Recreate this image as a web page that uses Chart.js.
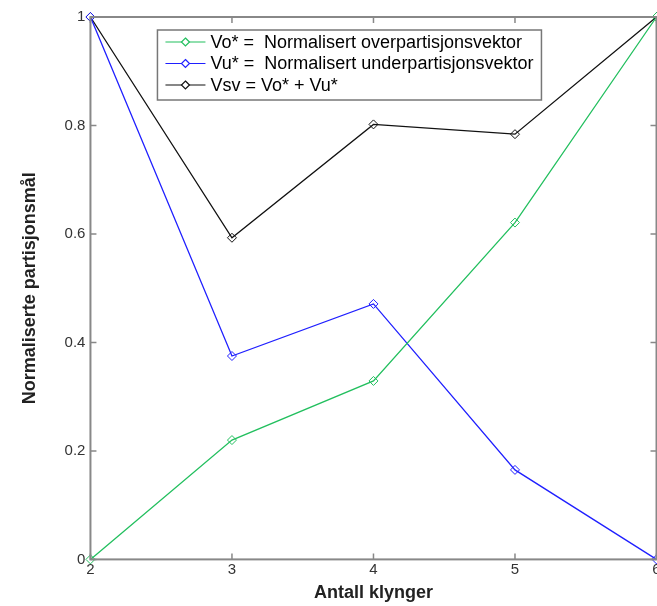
<!DOCTYPE html>
<html>
<head>
<meta charset="utf-8">
<script src="https://cdn.jsdelivr.net/npm/chart.js@4/dist/chart.umd.min.js"></script>
<style>
  html, body { margin: 0; padding: 0; background: #fff; overflow: hidden; }
  #wrap { width: 662px; height: 606px; }
</style>
</head>
<body>
<div id="wrap"><canvas id="myChart"></canvas></div>
<script>
// Data
const klynger = [2, 3, 4, 5, 6];
const vo = [0, 0.22, 0.329, 0.621, 1];
const vu = [1, 0.375, 0.471, 0.165, 0];
const vsv = [1, 0.593, 0.802, 0.784, 1];
const yTicks = [0, 0.2, 0.4, 0.6, 0.8, 1];

const seriesNames = [
    'Vo* =  Normalisert overpartisjonsvektor',
    'Vu* =  Normalisert underpartisjonsvektor',
    'Vsv = Vo* + Vu*'
];
const seriesColors = ['#22bf5e', '#1f1fff', '#111111'];

const font = '"Liberation Sans", Arial, Helvetica, sans-serif';

function toPoints(arr) {
    return klynger.map((x, i) => ({x: x, y: arr[i]}));
}

// box round the plot with inward ticks, and the legend inside it
const boxPlugin = {
    id: 'boxPlugin',
    afterDatasetsDraw(chart) {
        const c = chart.ctx;
        const a = chart.chartArea;
        const xs = chart.scales.x, ys = chart.scales.y;
        c.save();
        c.strokeStyle = '#888';
        c.lineWidth = 2;
        c.strokeRect(a.left, a.top, a.right - a.left, a.bottom - a.top);
        c.lineWidth = 1.5;
        c.beginPath();
        klynger.forEach(v => {
            const px = xs.getPixelForValue(v);
            c.moveTo(px, a.bottom); c.lineTo(px, a.bottom - 6);
            c.moveTo(px, a.top); c.lineTo(px, a.top + 6);
        });
        yTicks.forEach(v => {
            const py = ys.getPixelForValue(v);
            c.moveTo(a.left, py); c.lineTo(a.left + 6, py);
            c.moveTo(a.right, py); c.lineTo(a.right - 6, py);
        });
        c.stroke();

        // legend
        const lx = a.left + 67, ly = a.top + 13, lw = 384, lh = 70;
        c.fillStyle = '#fff';
        c.fillRect(lx, ly, lw, lh);
        c.strokeStyle = '#777';
        c.lineWidth = 1.5;
        c.strokeRect(lx, ly, lw, lh);
        c.font = '18px ' + font;
        c.textBaseline = 'middle';
        seriesNames.forEach((name, i) => {
            const y = ly + 12 + i * 21.5;
            c.strokeStyle = seriesColors[i];
            c.lineWidth = 1.2;
            c.beginPath();
            c.moveTo(lx + 8, y); c.lineTo(lx + 48, y);
            c.stroke();
            c.beginPath();
            c.moveTo(lx + 28, y - 4); c.lineTo(lx + 32, y);
            c.lineTo(lx + 28, y + 4); c.lineTo(lx + 24, y);
            c.closePath();
            c.fillStyle = '#fff';
            c.fill();
            c.stroke();
            c.fillStyle = '#000';
            c.fillText(name, lx + 53, y + 1);
        });
        c.restore();
    }
};

const mk = (label, arr, color) => ({
    label: label,
    data: toPoints(arr),
    borderColor: color,
    borderWidth: 1.3,
    pointStyle: 'rectRot',
    pointRadius: 4.5,
    pointBorderWidth: 1,
    pointBackgroundColor: 'rgba(255,255,255,0)',
    pointBorderColor: color,
    tension: 0,
    clip: false
});

let ctx = document.getElementById('myChart');
let myChart = new Chart(ctx, {
    type: 'line',
    data: {
        datasets: [
            mk(seriesNames[0], vo, seriesColors[0]),
            mk(seriesNames[1], vu, seriesColors[1]),
            mk(seriesNames[2], vsv, seriesColors[2])
        ]
    },
    options: {
        responsive: true,
        maintainAspectRatio: false,
        animation: false,
        layout: { padding: { top: 17, right: 0, bottom: 0, left: 0 } },
        plugins: { legend: { display: false }, tooltip: { enabled: false } },
        scales: {
            x: {
                type: 'linear',
                min: 2, max: 6,
                afterBuildTicks: s => { s.ticks = klynger.map(v => ({value: v})); },
                grid: { display: false, drawTicks: false },
                border: { display: false },
                ticks: { color: '#333', padding: 1, font: { family: font, size: 15 } },
                title: {
                    display: true, text: 'Antall klynger', color: '#222',
                    font: { family: font, size: 18, weight: 'bold' },
                    padding: { top: 3, bottom: 2 }
                }
            },
            y: {
                min: 0, max: 1,
                afterBuildTicks: s => { s.ticks = yTicks.map(v => ({value: v})); },
                grid: { display: false, drawTicks: false },
                border: { display: false },
                ticks: { color: '#333', padding: 5, font: { family: font, size: 15 },
                         callback: v => String(v) },
                title: {
                    display: true, text: 'Normaliserte partisjonsmål', color: '#222',
                    font: { family: font, size: 18, weight: 'bold' },
                    padding: { top: 19, bottom: 19 }
                }
            }
        }
    },
    plugins: [boxPlugin]
});
</script>
</body>
</html>
